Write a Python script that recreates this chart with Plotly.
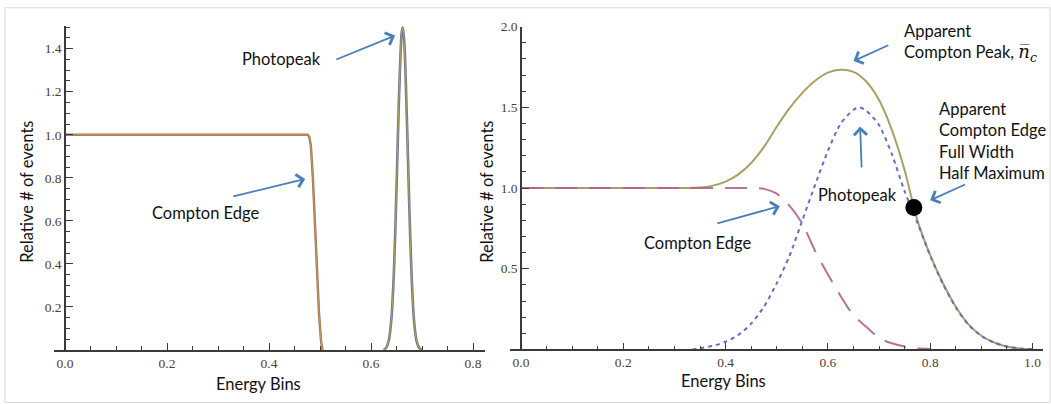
import plotly.graph_objects as go

# ---------------- data ----------------
# Left panel: ideal detector response
left_edge_x = [0.0, 0.1, 0.2, 0.3, 0.4, 0.47, 0.476, 0.479, 0.482, 0.486, 0.490, 0.494, 0.498, 0.502, 0.505]
left_edge_y = [1.0, 1.0, 1.0, 1.0, 1.0, 1.0, 1.0, 0.99, 0.95, 0.80, 0.58, 0.36, 0.17, 0.04, 0.0]
left_peak_x = [0.625, 0.630, 0.635, 0.640, 0.645, 0.650, 0.655, 0.660, 0.662, 0.665,
               0.670, 0.675, 0.680, 0.685, 0.690, 0.695, 0.700]
left_peak_y = [0.0, 0.011, 0.045, 0.146, 0.37, 0.75, 1.185, 1.47, 1.50, 1.44,
               1.10, 0.67, 0.32, 0.118, 0.035, 0.008, 0.0]

# Right panel: smeared response
right_sum_x = [0.0, 0.1, 0.2, 0.3, 0.35, 0.375, 0.4, 0.425, 0.45, 0.475, 0.5, 0.525, 0.55, 0.575,
               0.6, 0.625, 0.65, 0.675, 0.7, 0.725, 0.75, 0.775, 0.8, 0.825, 0.85, 0.875, 0.9,
               0.925, 0.95, 0.975, 1.0]
right_sum_y = [1.0, 1.0, 1.0, 1.0, 1.003, 1.015, 1.04, 1.085, 1.155, 1.255, 1.38, 1.495, 1.59, 1.665,
               1.715, 1.733, 1.72, 1.66, 1.545, 1.36, 1.11, 0.80, 0.585, 0.41, 0.265, 0.155, 0.085,
               0.043, 0.018, 0.006, 0.0]
right_edge_x = [0.0, 0.1, 0.2, 0.3, 0.4, 0.45, 0.475, 0.5, 0.525, 0.55, 0.575, 0.6, 0.625, 0.65,
                0.675, 0.7, 0.725, 0.75, 0.775, 0.8]
right_edge_y = [1.0, 1.0, 1.0, 1.0, 1.0, 1.0, 0.995, 0.965, 0.89, 0.78, 0.61, 0.465, 0.33, 0.21,
                0.14, 0.07, 0.038, 0.018, 0.008, 0.003]
right_peak_x = [0.335, 0.35, 0.375, 0.4, 0.425, 0.45, 0.475, 0.5, 0.525, 0.55, 0.575, 0.6, 0.625,
                0.65, 0.662, 0.675, 0.7, 0.725, 0.75, 0.775, 0.8, 0.825, 0.85, 0.875, 0.9, 0.925,
                0.95, 0.975, 1.0]
right_peak_y = [0.0, 0.008, 0.022, 0.048, 0.09, 0.16, 0.265, 0.41, 0.58, 0.80, 1.02, 1.23, 1.40,
                1.485, 1.50, 1.48, 1.39, 1.21, 0.98, 0.785, 0.58, 0.405, 0.26, 0.152, 0.083, 0.042,
                0.018, 0.006, 0.002]
fwhm_x = [0.768]
fwhm_y = [0.88]

left_xticks = [0.0, 0.2, 0.4, 0.6, 0.8]
left_yticks = [0.2, 0.4, 0.6, 0.8, 1.0, 1.2, 1.4]
right_xticks = [0.0, 0.2, 0.4, 0.6, 0.8, 1.0]
right_yticks = [0.5, 1.0, 1.5, 2.0]

# ---------------- styling ----------------
W, H = 1051, 404
C_PEAK = "#6b6bc4"
C_EDGE = "#b3628f"
C_SUM = "#aaa062"
ARROW = "#4a7ebb"
TXT = "#111111"
TICKC = "#4e4230"
LABEL_FONT = dict(family="Lato, Carlito, sans-serif", size=16.5, color=TXT)
TICK_FONT = dict(family="Liberation Serif, serif", size=13.5, color=TICKC)
AX = "#3a3a3a"


def px_x(p):
    return p / W


def px_y(p):
    return 1 - p / H


fig = go.Figure()

# left panel traces (component curves under the olive total)
fig.add_trace(go.Scatter(x=left_edge_x, y=left_edge_y, mode="lines",
                         line=dict(color="#9c6a60", width=2.4), xaxis="x", yaxis="y"))
fig.add_trace(go.Scatter(x=left_peak_x, y=left_peak_y, mode="lines",
                         line=dict(color="#707088", width=2.6, shape="spline", smoothing=0.8),
                         xaxis="x", yaxis="y"))
fig.add_trace(go.Scatter(x=left_edge_x, y=left_edge_y, mode="lines", opacity=0.75,
                         line=dict(color="#c8a050", width=1.4), xaxis="x", yaxis="y"))
fig.add_trace(go.Scatter(x=left_peak_x, y=left_peak_y, mode="lines", opacity=0.8,
                         line=dict(color="#b8ac58", width=1.1, shape="spline", smoothing=0.8),
                         xaxis="x", yaxis="y"))

# right panel traces
fig.add_trace(go.Scatter(x=right_sum_x, y=right_sum_y, mode="lines",
                         line=dict(color=C_SUM, width=2, shape="spline", smoothing=0.8),
                         xaxis="x2", yaxis="y2"))
fig.add_trace(go.Scatter(x=right_edge_x, y=right_edge_y, mode="lines", opacity=0.9,
                         line=dict(color=C_EDGE, width=2, dash="22px,12px", shape="spline", smoothing=0.6),
                         xaxis="x2", yaxis="y2"))
fig.add_trace(go.Scatter(x=right_peak_x, y=right_peak_y, mode="lines",
                         line=dict(color=C_PEAK, width=2, dash="4px,4px", shape="spline", smoothing=0.7),
                         xaxis="x2", yaxis="y2"))
fig.add_trace(go.Scatter(x=fwhm_x, y=fwhm_y, mode="markers",
                         marker=dict(color="black", size=17), xaxis="x2", yaxis="y2"))


def axis_common():
    return dict(showgrid=False, zeroline=False, showline=True, linecolor=AX, linewidth=1.6,
                ticks="inside", tickcolor=AX, tickwidth=1.3, ticklen=7, tickfont=TICK_FONT,
                fixedrange=True)


def minor(step):
    return dict(dtick=step, tick0=0, ticks="inside", ticklen=4, tickcolor=AX, tickwidth=1.2)


xa = axis_common()
xa.update(domain=[px_x(54), px_x(485)], range=[-0.0216, 0.8235], anchor="y",
          tickvals=left_xticks, ticktext=[f"{v:.1f}" for v in left_xticks], minor=minor(0.05))
ya = axis_common()
ya.update(domain=[px_y(349), px_y(19)], range=[0, 1.507], anchor="free", position=px_x(65),
          tickvals=left_yticks, ticktext=[f"{v:.1f}" for v in left_yticks], minor=minor(0.05))
xa2 = axis_common()
xa2.update(domain=[px_x(510), px_x(1043)], range=[-0.0215, 1.0205], anchor="y2",
           tickvals=right_xticks, ticktext=[f"{v:.1f}" for v in right_xticks], minor=minor(0.05))
ya2 = axis_common()
ya2.update(domain=[px_y(348.5), px_y(20)], range=[0, 2.0], anchor="free", position=px_x(521),
           tickvals=right_yticks, ticktext=[f"{v:.1f}" for v in right_yticks], minor=minor(0.1))

annotations = []


def arrow(xref, yref, tail, head):
    annotations.append(dict(xref=xref, yref=yref, axref=xref, ayref=yref,
                            x=head[0], y=head[1], ax=tail[0], ay=tail[1], text="",
                            showarrow=True, arrowhead=4, arrowsize=1.4, arrowwidth=1.8,
                            arrowcolor=ARROW, standoff=0, startstandoff=0))


def label(xref, yref, x, y, text, xanchor="center", align="center"):
    annotations.append(dict(xref=xref, yref=yref, x=x, y=y, text=text, showarrow=False,
                            xanchor=xanchor, yanchor="middle", align=align, font=LABEL_FONT))


# left panel labels
label("x", "y", 0.425, 1.352, "Photopeak")
arrow("x", "y", (0.529, 1.347), (0.647, 1.461))
label("x", "y", 0.275, 0.635, "Compton Edge")
arrow("x", "y", (0.327, 0.712), (0.471, 0.795))

# right panel labels
label("x2", "y2", 0.744, 1.897,
      "Apparent<br>Compton Peak, <span style='font-family:DejaVu Serif;font-size:18px'>"
      "<i>n\u0305</i><sub><i>c</i></sub></span>",
      xanchor="left", align="left")
arrow("x2", "y2", (0.721, 1.889), (0.650, 1.787))
label("x2", "y2", 0.813, 1.290,
      "Apparent<br>Compton Edge<br>Full Width<br>Half Maximum", xanchor="left", align="left")
arrow("x2", "y2", (0.871, 1.026), (0.800, 0.924))
label("x2", "y2", 0.657, 0.955, "Photopeak")
arrow("x2", "y2", (0.666, 1.118), (0.663, 1.381))
label("x2", "y2", 0.346, 0.657, "Compton Edge")
arrow("x2", "y2", (0.381, 0.778), (0.506, 0.888))

# axis titles
for cx, cy in [(27, 188), (487, 188)]:
    annotations.append(dict(xref="paper", yref="paper", x=px_x(cx), y=px_y(cy),
                            text="Relative # of events", textangle=-90, showarrow=False,
                            xanchor="center", yanchor="middle", font=LABEL_FONT))
for cx, cy in [(258, 384), (723, 381)]:
    annotations.append(dict(xref="paper", yref="paper", x=px_x(cx), y=px_y(cy),
                            text="Energy Bins", showarrow=False,
                            xanchor="center", yanchor="middle", font=LABEL_FONT))

fig.update_layout(
    width=W, height=H,
    margin=dict(l=0, r=0, t=0, b=0),
    paper_bgcolor="white", plot_bgcolor="white",
    showlegend=False,
    xaxis=xa, yaxis=ya, xaxis2=xa2, yaxis2=ya2,
    annotations=annotations,
    shapes=[dict(type="rect", xref="paper", yref="paper",
                 x0=px_x(5), x1=px_x(1050), y0=px_y(402.5), y1=px_y(0.8),
                 line=dict(color="#d8d8d8", width=1), layer="below")],
)

fig.write_html("out.html", config=dict(displayModeBar=False))
